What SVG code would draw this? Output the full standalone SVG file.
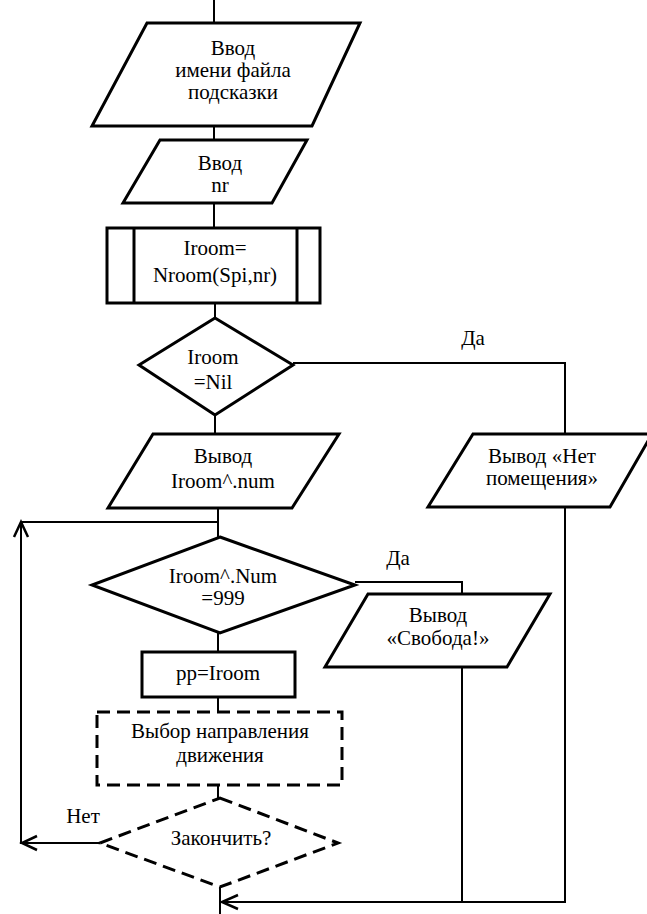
<svg xmlns="http://www.w3.org/2000/svg" width="647" height="914" viewBox="0 0 647 914">
<style>
.shape{fill:#fff;stroke:#000;stroke-width:3;stroke-linejoin:miter}
.dash{fill:#fff;stroke:#000;stroke-width:3;stroke-dasharray:13 7}
.conn{fill:none;stroke:#000;stroke-width:2}
.arrow{fill:none;stroke:#000;stroke-width:2.5}
.t{font-size:21px;fill:#000;text-anchor:middle}
</style>
<rect width="647" height="914" fill="#fff"/>
<g id="connectors">
<path class="conn" d="M214,0 V23"/>
<path class="conn" d="M214,126 V140"/>
<path class="conn" d="M214,203 V228"/>
<path class="conn" d="M215,303 V318"/>
<path class="conn" d="M215,415 V434"/>
<path class="conn" d="M293,363 H565 V434"/>
<path class="conn" d="M565,507 V902 H222"/>
<path class="conn" d="M218,508 V537"/>
<path class="conn" d="M355,582 H462 V594"/>
<path class="conn" d="M462,667 V902"/>
<path class="conn" d="M218,633 V652"/>
<path class="conn" d="M218,697 V712"/>
<path class="conn" d="M218,785 V798"/>
<path class="conn" d="M220,887 V914"/>
<path class="conn" d="M100,843 H21 V522 H218"/>
<path class="arrow" d="M14,537 L21,522 L28,537"/>
<path class="arrow" d="M37,836 L22,843 L37,850"/>
<path class="arrow" d="M238,895 L222,902 L238,909"/>
</g>
<g id="input-filename" font-family="Liberation Serif, serif">
<polygon class="shape" points="147,23 360,23 312,126 92,126"/>
<text class="t" x="233" y="55">Ввод</text>
<text class="t" x="233" y="77">имени файла</text>
<text class="t" x="233" y="99">подсказки</text>
</g>
<g id="input-nr" font-family="Liberation Serif, serif">
<polygon class="shape" points="160,140 307,140 272,203 123,203"/>
<text class="t" x="220" y="170">Ввод</text>
<text class="t" x="220" y="192">nr</text>
</g>
<g id="call-nroom" font-family="Liberation Serif, serif">
<rect class="shape" x="107" y="228" width="213" height="75"/>
<line class="shape" x1="134" y1="228" x2="134" y2="303"/>
<line class="shape" x1="297" y1="228" x2="297" y2="303"/>
<text class="t" x="215" y="255">Iroom=</text>
<text class="t" x="215" y="282">Nroom(Spi,nr)</text>
</g>
<g id="check-nil" font-family="Liberation Serif, serif">
<polygon class="shape" points="215,318 293,365 215,415 139,365"/>
<text class="t" x="213" y="364">Iroom</text>
<text class="t" x="213" y="389">=Nil</text>
</g>
<g id="label-yes-1" font-family="Liberation Serif, serif"><text class="t" x="473" y="345">Да</text></g>
<g id="output-noroom" font-family="Liberation Serif, serif">
<polygon class="shape" points="473,434 652,434 610,507 428,507"/>
<text class="t" x="542" y="463">Вывод «Нет</text>
<text class="t" x="542" y="485">помещения»</text>
</g>
<g id="output-num" font-family="Liberation Serif, serif">
<polygon class="shape" points="153,434 339,434 292,508 108,508"/>
<text class="t" x="223" y="463">Вывод</text>
<text class="t" x="223" y="488">Iroom^.num</text>
</g>
<g id="check-999" font-family="Liberation Serif, serif">
<polygon class="shape" points="220,537 355,585 220,633 92,585"/>
<text class="t" x="223" y="583">Iroom^.Num</text>
<text class="t" x="223" y="605">=999</text>
</g>
<g id="label-yes-2" font-family="Liberation Serif, serif"><text class="t" x="398" y="565">Да</text></g>
<g id="output-free" font-family="Liberation Serif, serif">
<polygon class="shape" points="368,594 550,594 507,667 325,667"/>
<text class="t" x="438" y="622">Вывод</text>
<text class="t" x="438" y="645">«Свобода!»</text>
</g>
<g id="assign-pp" font-family="Liberation Serif, serif">
<rect class="shape" x="142" y="652" width="153" height="45"/>
<text class="t" x="218" y="680">pp=Iroom</text>
</g>
<g id="choose-direction" font-family="Liberation Serif, serif">
<rect class="dash" x="97" y="712" width="245" height="73"/>
<text class="t" x="220" y="738">Выбор направления</text>
<text class="t" x="220" y="762">движения</text>
</g>
<g id="check-finish" font-family="Liberation Serif, serif">
<polygon class="dash" points="220,798 338,843 220,887 100,843"/>
<text class="t" x="221" y="845">Закончить?</text>
</g>
<g id="label-no" font-family="Liberation Serif, serif"><text class="t" x="83" y="823">Нет</text></g>
</svg>
